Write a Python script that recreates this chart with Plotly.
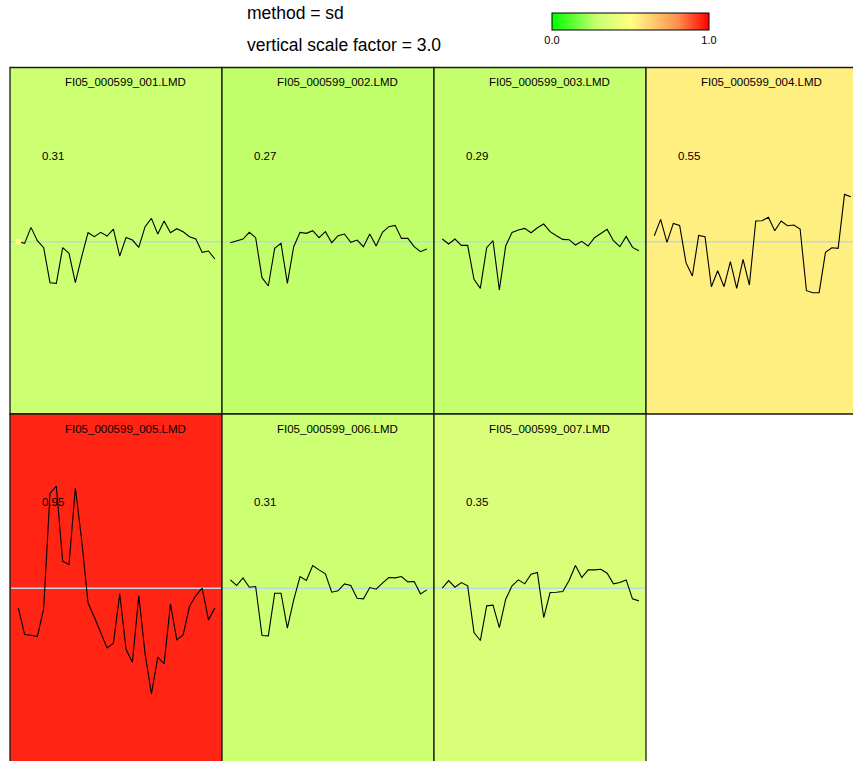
import plotly.graph_objects as go

# the figure fills the whole 853x761 window (page margin removed in post_script)
PAGE_OFF = 0
W, H = 853 - PAGE_OFF, 761 - PAGE_OFF
SCREEN_W, SCREEN_H = 853, 761

# ---- data ----
panel_names = ["FI05_000599_001.LMD", "FI05_000599_002.LMD", "FI05_000599_003.LMD",
               "FI05_000599_004.LMD", "FI05_000599_005.LMD", "FI05_000599_006.LMD",
               "FI05_000599_007.LMD"]
panel_scores = [0.31, 0.27, 0.29, 0.55, 0.95, 0.31, 0.35]

s1 = [0, -5, 43, 3, -18, -123, -125, -18, -35, -123, -45, 27, 15, 28, 17, 38, -43, 13, 5, -17,
      45, 70, 23, 62, 27, 39, 30, 15, 8, -32, -28, -52]
s2 = [-3, 3, 8, 28, 12, -108, -133, -20, -5, -125, -15, 28, 25, 33, 12, 30, -3, 18, 23, -2,
      5, -15, 23, -13, 28, 45, 49, 10, 10, -15, -30, -22]
s3 = [8, -7, 8, -11, -11, -113, -140, -18, 3, -145, -13, 28, 35, 40, 27, 42, 53, 30, 18, 7,
      6, -10, 1, -13, 12, 25, 37, 3, -15, 16, -17, -27]
s4 = [18, 67, -2, 55, 49, -63, -103, 19, 15, -135, -87, -135, -60, -140, -53, -130, 62, 63, 73, 33,
      62, 48, 50, 38, -147, -153, -153, -32, -18, -20, 142, 135]
s5 = [-59, -139, -141, -145, -62, 285, 306, 81, 71, 301, 143, -44, -87, -132, -179, -165, -17, -184,
      -222, -22, -197, -317, -207, -227, -47, -155, -140, -55, -22, 0, -95, -59]
s6 = [25, 8, 31, 3, 5, -142, -143, -15, -15, -120, -35, 35, 23, 68, 55, 43, -12, -8, 13, 8,
      -30, -32, 2, -3, 15, 32, 31, 35, 19, 20, -17, -5]
s7 = [0, 23, 3, 17, 7, -133, -157, -53, -51, -118, -33, 7, 25, 13, 42, 47, -88, -13, -12, -10,
      23, 68, 32, 55, 55, 57, 45, 13, 17, 25, -32, -38]
series = [s1, s2, s3, s4, s5, s6, s7]
sample_index = list(range(len(s1)))

method_label = "method = sd"
scale_label = "vertical scale factor = 3.0"
cbar_ticks = [0.0, 1.0]
cbar_ticktext = ["0.0", "1.0"]

# ---- styling ----
stops = [(0.0, (0, 255, 0)), (0.27, (192, 255, 106)), (0.35, (217, 255, 122)),
         (0.5, (255, 255, 128)), (0.55, (255, 238, 128)), (0.8, (255, 144, 80)),
         (1.0, (255, 0, 0))]
colorscale = [[p, "rgb(%d,%d,%d)" % c] for p, c in stops]


def score_color(v):
    for (p0, c0), (p1, c1) in zip(stops[:-1], stops[1:]):
        if p0 <= v <= p1:
            t = (v - p0) / (p1 - p0)
            return "rgb(%d,%d,%d)" % tuple(round(a + (b - a) * t) for a, b in zip(c0, c1))
    return "rgb(255,0,0)"


def px(sx):
    return (sx - PAGE_OFF) / W


def py(sy):
    return 1 - (sy - PAGE_OFF) / H


FONT = "Liberation Sans, Arial, sans-serif"
COL_W, ROW_H = 212, 346.5
LEFT0, TOP0 = 10, 67.5
XSTEP, XOFF = 6.34, 8.3
CENTER_OFF = 174.2
UNIT = 3.0  # data units per pixel vertically

fig = go.Figure()
shapes, annotations = [], []
layout_axes = {}

for k, (name, score, ys) in enumerate(zip(panel_names, panel_scores, series)):
    r, c = divmod(k, 4)
    left = LEFT0 + c * COL_W
    top = TOP0 + r * ROW_H
    right = left + COL_W
    bottom = top + ROW_H
    vis_r = min(right, SCREEN_W)
    vis_b = min(bottom, SCREEN_H)
    x_first = left + XOFF
    center = top + CENTER_OFF
    n = "" if k == 0 else str(k + 1)
    layout_axes["xaxis" + n] = dict(domain=[px(left), px(vis_r)],
                                    range=[(left - x_first) / XSTEP, (vis_r - x_first) / XSTEP],
                                    visible=False, fixedrange=True)
    layout_axes["yaxis" + n] = dict(domain=[py(vis_b), py(top)],
                                    range=[-(vis_b - center) * UNIT, (center - top) * UNIT],
                                    visible=False, fixedrange=True)
    fig.add_trace(go.Scatter(x=sample_index, y=ys, xaxis="x" + n, yaxis="y" + n,
                             mode="lines", line=dict(color="black", width=1.1),
                             hoverinfo="skip", showlegend=False))
    shapes.append(dict(type="rect", xref="paper", yref="paper",
                       x0=px(left), x1=px(right), y0=py(bottom + 2 if r == 1 else bottom),
                       y1=py(top), fillcolor=score_color(score),
                       line=dict(color="#1a1a1a", width=1.3), layer="below"))
    shapes.append(dict(type="line", xref="paper", yref="y" + n,
                       x0=px(left + 1), x1=px(right - 1), y0=0, y1=0,
                       line=dict(color="#b7d9e2", width=1.6), layer="below"))
    annotations.append(dict(text=name, xref="paper", yref="paper",
                            x=px(left + 115), y=py(top + 14.5),
                            xanchor="center", yanchor="middle", showarrow=False,
                            font=dict(family=FONT, size=11.5, color="black")))
    annotations.append(dict(text=f"{score:.2f}", xref="paper", yref="paper",
                            x=px(left + 29.5), y=py(top + 88),
                            xanchor="left", yanchor="middle", showarrow=False,
                            font=dict(family=FONT, size=11.5, color="black")))

# colour bar
fig.add_trace(go.Scatter(x=[0], y=[0], xaxis="x", yaxis="y", mode="markers",
                         marker=dict(size=0, color=[0.5], cmin=0, cmax=1,
                                     colorscale=colorscale, showscale=True,
                                     colorbar=dict(orientation="h", x=px(630.5), xanchor="center",
                                                   y=py(13.5), yanchor="top",
                                                   len=157, lenmode="pixels",
                                                   thickness=16.5, thicknessmode="pixels",
                                                   outlinewidth=1, outlinecolor="black",
                                                   tickvals=cbar_ticks, ticktext=cbar_ticktext,
                                                   ticks="", xpad=0, ypad=0, borderwidth=0,
                                                   tickfont=dict(family=FONT, size=11, color="black"))),
                         hoverinfo="skip", showlegend=False))

annotations.append(dict(text=method_label, xref="paper", yref="paper", x=px(245), y=py(13),
                        xanchor="left", yanchor="middle", showarrow=False,
                        font=dict(family=FONT, size=17.5, color="black")))
annotations.append(dict(text=scale_label, xref="paper", yref="paper", x=px(245), y=py(45),
                        xanchor="left", yanchor="middle", showarrow=False,
                        font=dict(family=FONT, size=17.5, color="black")))

fig.update_layout(width=W, height=H, margin=dict(l=0, r=0, t=0, b=0),
                  paper_bgcolor="white", plot_bgcolor="rgba(0,0,0,0)",
                  showlegend=False, shapes=shapes, annotations=annotations,
                  font=dict(family=FONT), **layout_axes)

fig.write_html("out.html", config={"displayModeBar": False},
               post_script="document.body.style.margin='0';document.body.style.overflow='hidden';")
